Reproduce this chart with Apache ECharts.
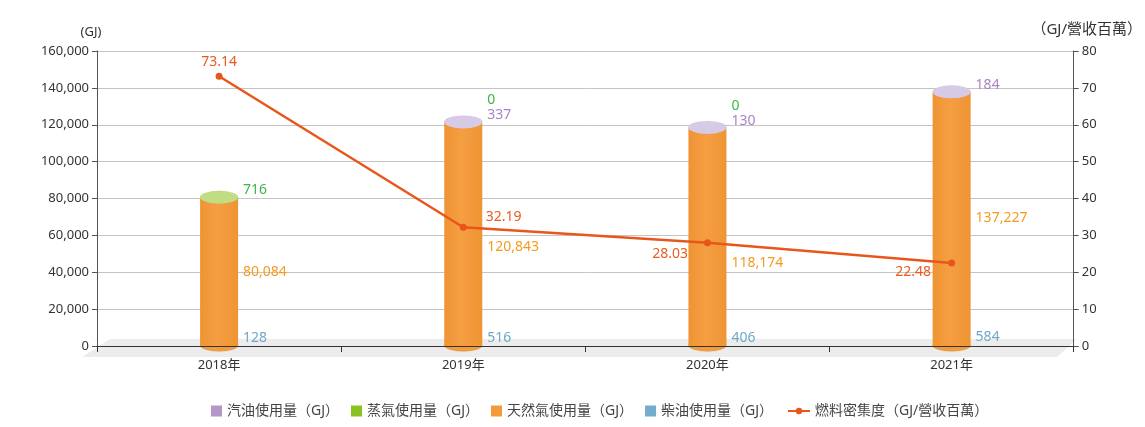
<!DOCTYPE html>
<html>
<head>
<meta charset="utf-8">
<script src="https://cdn.jsdelivr.net/npm/echarts@6/dist/echarts.min.js"></script>
<style>
html, body { margin: 0; padding: 0; background: #fff; }
#chart { width: 1145px; height: 427px; }
</style>
</head>
<body>
<div id="chart"></div>
<script>
// 數據
var years = ['2018年', '2019年', '2020年', '2021年'];
var gasoline = [null, 337, 130, 184];
var steam = [716, 0, 0, null];
var naturalGas = [80084, 120843, 118174, 137227];
var diesel = [128, 516, 406, 584];
var intensity = [73.14, 32.19, 28.03, 22.48];

var leftTicks = { min: 0, max: 160000, interval: 20000 };
var rightTicks = { min: 0, max: 80, interval: 10 };

var names = ['汽油使用量（GJ）', '蒸氣使用量（GJ）', '天然氣使用量（GJ）', '柴油使用量（GJ）', '燃料密集度（GJ/營收百萬）'];
var colors = { gasoline: '#B497C9', steam: '#8CC21F', gas: '#F39A3B', diesel: '#73ADCD', line: '#E9561B' };

var font = '"Noto Sans", "Noto Sans CJK TC", sans-serif';
var gridLeft = 97, gridRight = 71, gridTop = 51, gridBottom = 81;

var totals = years.map(function (y, i) {
    return (gasoline[i] || 0) + (steam[i] || 0) + naturalGas[i] + (diesel[i] || 0);
});

var dom = document.getElementById('chart');
var myChart = echarts.init(dom, null, { renderer: 'canvas' });

var gasBody = new echarts.graphic.LinearGradient(0, 0, 1, 0, [
    { offset: 0, color: '#EE9434' },
    { offset: 0.45, color: '#F59E42' },
    { offset: 1, color: '#EE9434' }
]);

var capData = totals.map(function (t, i) {
    var purple = gasoline[i] != null;
    return {
        value: t,
        itemStyle: purple
            ? { color: '#D7CAE5', borderColor: '#BBA6D4', borderWidth: 1 }
            : { color: '#C2DC84', borderColor: '#8CBF2B', borderWidth: 1.5 }
    };
});

var lineData = intensity.map(function (v, i) {
    var lab = [
        { position: 'top', offset: [0, 1] },
        { position: 'right', offset: [14, -10] },
        { position: 'left', offset: [-11, 11] },
        { position: 'left', offset: [-12, 9] }
    ][i];
    return { value: v, label: lab };
});

var baseY = 427 - gridBottom, x0 = gridLeft, x1 = 1145 - gridRight;
var plotH = 427 - gridTop - gridBottom;

// 天然氣標籤若壓到折線，往下移
function gasLabelLayout(p) {
    var lineY = baseY - intensity[p.dataIndex] / rightTicks.max * plotH;
    var cy = p.labelRect.y + p.labelRect.height / 2;
    if (Math.abs(cy - lineY) < 15) {
        return { dy: lineY + 20 - cy };
    }
    return {};
}

var option = {
    animation: false,
    textStyle: { fontFamily: font },
    grid: { left: gridLeft, right: gridRight, top: gridTop, bottom: gridBottom },
    graphic: [{
        type: 'polygon',
        z: -10,
        silent: true,
        shape: { points: [[x0 + 13, baseY - 7], [x1 + 3, baseY - 7], [x1 - 17, baseY + 11], [x0 - 15, baseY + 11]] },
        style: { fill: '#ECECEC' }
    }],
    legend: [{
        left: 206,
        top: 399,
        itemWidth: 11,
        itemHeight: 11,
        itemGap: 12,
        textStyle: { fontSize: 14, color: '#444', fontFamily: font },
        data: [
            { name: names[0], icon: 'rect', itemStyle: { color: colors.gasoline } },
            { name: names[1], icon: 'rect', itemStyle: { color: colors.steam } },
            { name: names[2], icon: 'rect', itemStyle: { color: colors.gas } },
            { name: names[3], icon: 'rect', itemStyle: { color: colors.diesel } }
        ]
    }, {
        left: 782,
        top: 399,
        itemWidth: 22,
        itemHeight: 8,
        textStyle: { fontSize: 14, color: '#444', fontFamily: font },
        data: [names[4]]
    }],
    xAxis: {
        type: 'category',
        data: years,
        axisLine: { lineStyle: { color: '#333', width: 1 } },
        axisTick: { show: true, length: 6, lineStyle: { color: '#333' } },
        axisLabel: { color: '#333', fontSize: 13, margin: 13 },
        z: 3
    },
    yAxis: [{
        type: 'value',
        min: leftTicks.min,
        max: leftTicks.max,
        interval: leftTicks.interval,
        name: '(GJ)',
        nameGap: 12,
        nameTextStyle: { color: '#333', fontSize: 13, padding: [0, 12, 0, 0] },
        axisLine: { show: true, lineStyle: { color: '#555' } },
        axisTick: { show: true, length: 5, lineStyle: { color: '#555' } },
        axisLabel: {
            color: '#333', fontSize: 13, margin: 8,
            formatter: function (v) { return v.toLocaleString('en-US'); }
        },
        splitLine: { lineStyle: { color: '#C4C4C4' } }
    }, {
        type: 'value',
        min: rightTicks.min,
        max: rightTicks.max,
        interval: rightTicks.interval,
        name: '（GJ/營收百萬）',
        nameGap: 14,
        nameTextStyle: { color: '#333', fontSize: 15, padding: [0, 0, 0, 26] },
        axisLine: { show: true, lineStyle: { color: '#555' } },
        axisTick: { show: true, length: 5, lineStyle: { color: '#555' } },
        axisLabel: { color: '#333', fontSize: 13, margin: 8 },
        splitLine: { show: false }
    }],
    series: [{
        name: 'bottomCap',
        type: 'pictorialBar',
        symbol: 'circle',
        symbolSize: [38, 12],
        symbolPosition: 'start',
        symbolOffset: [0, '50%'],
        z: 1,
        data: totals,
        itemStyle: { color: colors.gas, borderColor: '#6FA8C8', borderWidth: 1.5 },
        tooltip: { show: false }
    }, {
        name: names[3],
        type: 'bar',
        stack: 'fuel',
        barWidth: 38,
        z: 2,
        data: diesel,
        itemStyle: { color: colors.gas },
        label: {
            show: true, position: 'right', offset: [0, -8],
            color: '#6FA8C8', fontSize: 14
        }
    }, {
        name: names[2],
        type: 'bar',
        stack: 'fuel',
        barWidth: 38,
        z: 2,
        data: naturalGas,
        itemStyle: { color: gasBody },
        label: {
            show: true, position: 'right',
            color: '#F29C1F', fontSize: 14,
            formatter: function (p) { return p.value.toLocaleString('en-US'); }
        },
        labelLayout: gasLabelLayout
    }, {
        name: names[1],
        type: 'bar',
        stack: 'fuel',
        barWidth: 38,
        z: 2,
        data: steam,
        itemStyle: { color: colors.gas }
    }, {
        name: names[0],
        type: 'bar',
        stack: 'fuel',
        barWidth: 38,
        z: 2,
        data: gasoline,
        itemStyle: { color: colors.gas }
    }, {
        // 零高度的頂端標籤層
        name: 'capLabel',
        type: 'bar',
        stack: 'fuel',
        barWidth: 38,
        z: 4,
        data: years.map(function () { return 0; }),
        itemStyle: { color: 'transparent' },
        label: {
            show: true,
            position: 'right',
            offset: [0, 1],
            align: 'left',
            verticalAlign: 'bottom',
            lineHeight: 15,
            formatter: function (p) {
                var i = p.dataIndex, parts = [];
                if (steam[i] != null) parts.push('{s|' + steam[i] + '}');
                if (gasoline[i] != null) parts.push('{g|' + gasoline[i] + '}');
                return parts.join('\n');
            },
            rich: {
                s: { color: '#3DB54A', fontSize: 14, lineHeight: 15 },
                g: { color: '#A886C6', fontSize: 14, lineHeight: 15 }
            }
        }
    }, {
        name: 'topCap',
        type: 'pictorialBar',
        symbol: 'circle',
        symbolSize: [38, 13],
        symbolPosition: 'end',
        symbolOffset: [0, '-50%'],
        z: 3,
        data: capData
    }, {
        name: names[4],
        type: 'line',
        yAxisIndex: 1,
        z: 5,
        data: lineData,
        symbol: 'circle',
        symbolSize: 7,
        itemStyle: { color: colors.line },
        lineStyle: { color: colors.line, width: 2.5 },
        label: { show: true, color: '#EB5A1E', fontSize: 14 }
    }]
};

if (option && typeof option === 'object') {
    myChart.setOption(option);
}

window.addEventListener('resize', myChart.resize);
</script>
</body>
</html>
